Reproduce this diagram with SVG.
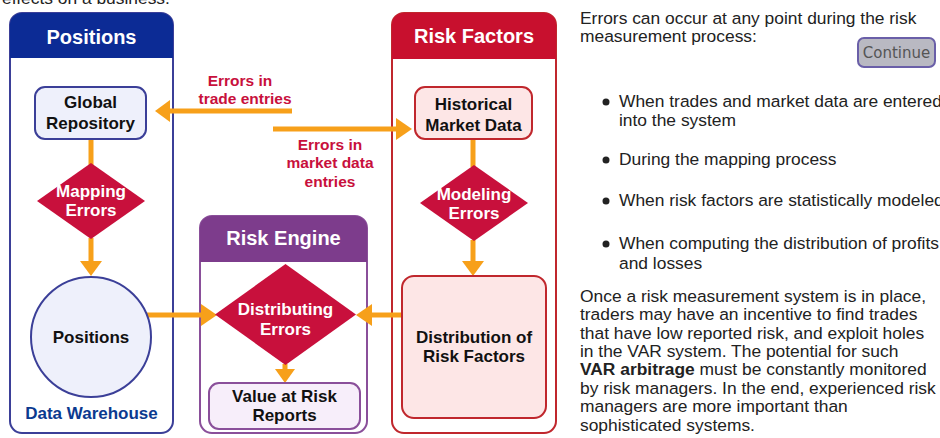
<svg xmlns="http://www.w3.org/2000/svg" width="940" height="438" viewBox="0 0 940 438">
<defs>
<style>
.hd{font-family:"Liberation Sans",Arial,sans-serif;font-weight:bold;font-size:20px;fill:#fff;text-anchor:middle}
.nb{font-family:"Liberation Sans",Arial,sans-serif;font-weight:bold;font-size:17px;fill:#111;text-anchor:middle}
.dw{font-family:"Liberation Sans",Arial,sans-serif;font-weight:bold;font-size:17px;fill:#fff;text-anchor:middle}
.el{font-family:"Liberation Sans",Arial,sans-serif;font-weight:bold;font-size:15.5px;fill:#c8103c;text-anchor:middle}
.bd{font-family:"Liberation Sans",Arial,sans-serif;font-size:17.4px;fill:#222}
.dia{fill:#c8103c}
.con{stroke:#f7a01a;stroke-width:5;fill:none}
.ah{fill:#f7a01a}
</style>
</defs>
<rect width="940" height="438" fill="#fff"/>
<text class="bd" x="2" y="4" fill="#555">effects on a business.</text>

<g id="positions-panel">
<rect x="10" y="13" width="163" height="420" rx="12" fill="#fff" stroke="#3b3f98" stroke-width="2"/>
<path d="M10 58 V25 a12 12 0 0 1 12 -12 H161 a12 12 0 0 1 12 12 V58 Z" fill="#0c2b95"/>
<text class="hd" x="91.5" y="44">Positions</text>
<text x="91.5" y="419" font-family="Liberation Sans,Arial,sans-serif" font-weight="bold" font-size="17px" fill="#0b3a8f" text-anchor="middle">Data Warehouse</text>
</g>

<g id="risk-factors-panel">
<rect x="392" y="13" width="164" height="420" rx="12" fill="#fff" stroke="#c0272d" stroke-width="2"/>
<path d="M392 59 V25 a12 12 0 0 1 12 -12 H544 a12 12 0 0 1 12 12 V59 Z" fill="#c8102e"/>
<text class="hd" x="474" y="43">Risk Factors</text>
</g>

<g id="risk-engine-panel">
<rect x="200" y="216" width="167" height="217" rx="12" fill="#fff" stroke="#8a4f9a" stroke-width="2"/>
<path d="M200 262 V228 a12 12 0 0 1 12 -12 H355 a12 12 0 0 1 12 12 V262 Z" fill="#7d3c8c"/>
<text class="hd" x="283.5" y="245">Risk Engine</text>
</g>

<g id="connectors">
<line class="con" x1="91" y1="139" x2="91" y2="165"/>
<line class="con" x1="91" y1="238" x2="91" y2="262"/>
<polygon class="ah" points="80,261 102,261 91,276"/>
<line class="con" x1="147" y1="315" x2="203" y2="315"/>
<polygon class="ah" points="201,304 201,326 217,315"/>
<line class="con" x1="292" y1="111" x2="168" y2="111"/>
<polygon class="ah" points="170,100 170,122 155,111"/>
<line class="con" x1="273" y1="129" x2="398" y2="129"/>
<polygon class="ah" points="396,118 396,140 412,129"/>
<line class="con" x1="473" y1="139" x2="473" y2="167"/>
<line class="con" x1="473" y1="240" x2="473" y2="262"/>
<polygon class="ah" points="462,261 484,261 473,276"/>
<line class="con" x1="402" y1="315" x2="370" y2="315"/>
<polygon class="ah" points="372,304 372,326 356,315"/>
<line class="con" x1="285" y1="364" x2="285" y2="371"/>
<polygon class="ah" points="275,369 295,369 285,383"/>
<text class="el" x="240" y="86">Errors in</text>
<text class="el" x="245" y="104">trade entries</text>
<text class="el" x="330" y="150">Errors in</text>
<text class="el" x="330" y="168">market data</text>
<text class="el" x="330" y="187">entries</text>
</g>

<g id="global-repository">
<rect x="35" y="87" width="111" height="52" rx="10" fill="#eef0fb" stroke="#3b3f98" stroke-width="2"/>
<text class="nb" x="90.5" y="108">Global</text>
<text class="nb" x="90.5" y="129">Repository</text>
</g>

<g id="mapping-errors">
<polygon class="dia" points="91,163 145,201 91,239 37,201"/>
<text class="dw" x="91" y="197">Mapping</text>
<text class="dw" x="91" y="216">Errors</text>
</g>

<g id="positions-node">
<circle cx="91" cy="337" r="60" fill="#eef0fb" stroke="#3b3f98" stroke-width="2"/>
<text class="nb" x="91" y="343">Positions</text>
</g>

<g id="distributing-errors">
<polygon class="dia" points="285.5,264 356,314.5 285.5,365 215,314.5"/>
<text class="dw" x="285.5" y="315">Distributing</text>
<text class="dw" x="285.5" y="335">Errors</text>
</g>

<g id="var-reports">
<rect x="209" y="383" width="151" height="46" rx="10" fill="#f7eefa" stroke="#8a4f9a" stroke-width="2"/>
<text class="nb" x="284.5" y="402">Value at Risk</text>
<text class="nb" x="284.5" y="421">Reports</text>
</g>

<g id="historical-market-data">
<rect x="415" y="87" width="117" height="52" rx="10" fill="#fde6e6" stroke="#c0272d" stroke-width="2"/>
<text class="nb" x="473.5" y="110">Historical</text>
<text class="nb" x="473.5" y="131">Market Data</text>
</g>

<g id="modeling-errors">
<polygon class="dia" points="474,165 528,203 474,241 420,203"/>
<text class="dw" x="474" y="200">Modeling</text>
<text class="dw" x="474" y="219">Errors</text>
</g>

<g id="distribution-risk-factors">
<rect x="402" y="276" width="144" height="142" rx="12" fill="#fde6e6" stroke="#c0272d" stroke-width="2"/>
<text class="nb" x="474" y="343">Distribution of</text>
<text class="nb" x="474" y="362">Risk Factors</text>
</g>

<g id="text-panel">
<text class="bd" x="580" y="24">Errors can occur at any point during the risk</text>
<text class="bd" x="580" y="42">measurement process:</text>
<g id="continue-button">
<rect x="858" y="38" width="77" height="29" rx="6" fill="#b9b9c2" stroke="#6a5fa8" stroke-width="2"/>
<text x="896.5" y="58" font-family="DejaVu Sans,sans-serif" font-size="15px" fill="#555" text-anchor="middle">Continue</text>
</g>
<circle cx="606" cy="102" r="3.5" fill="#222"/>
<text class="bd" x="619" y="107">When trades and market data are entered</text>
<text class="bd" x="619" y="126">into the system</text>
<circle cx="606" cy="160" r="3.5" fill="#222"/>
<text class="bd" x="619" y="165">During the mapping process</text>
<circle cx="606" cy="201" r="3.5" fill="#222"/>
<text class="bd" x="619" y="206">When risk factors are statistically modeled</text>
<circle cx="606" cy="244" r="3.5" fill="#222"/>
<text class="bd" x="619" y="249">When computing the distribution of profits</text>
<text class="bd" x="619" y="269">and losses</text>
<text class="bd" x="580" y="302">Once a risk measurement system is in place,</text>
<text class="bd" x="580" y="320">traders may have an incentive to find trades</text>
<text class="bd" x="580" y="339">that have low reported risk, and exploit holes</text>
<text class="bd" x="580" y="357">in the VAR system. The potential for such</text>
<text class="bd" x="580" y="375"><tspan font-weight="bold">VAR arbitrage</tspan> must be constantly monitored</text>
<text class="bd" x="580" y="394">by risk managers. In the end, experienced risk</text>
<text class="bd" x="580" y="412">managers are more important than</text>
<text class="bd" x="580" y="431">sophisticated systems.</text>
</g>
</svg>
